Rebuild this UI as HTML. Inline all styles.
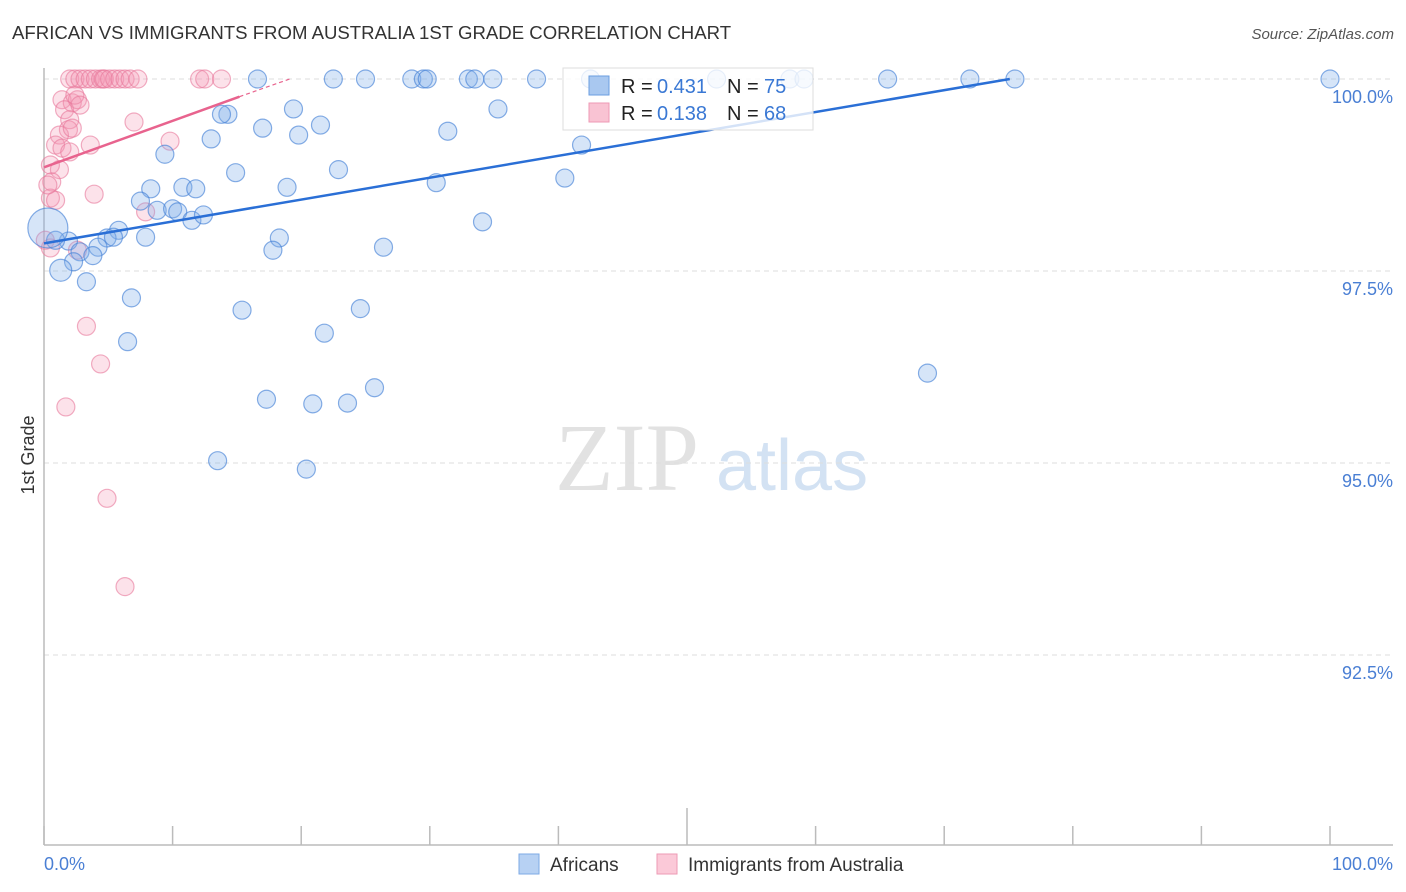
<!DOCTYPE html>
<html><head><meta charset="utf-8">
<style>
body{margin:0;background:#fff;font-family:"Liberation Sans",sans-serif;}
#wrap{position:relative;width:1406px;height:892px;overflow:hidden;}
</style></head>
<body>
<div id="wrap">
<svg id="chart" width="1406" height="892" style="position:absolute;left:0;top:0;font-family:'Liberation Sans',sans-serif"></svg>
</div>
<script>
const blueX=[16.6,22.5,25.0,28.6,29.5,29.8,33.0,33.5,34.9,38.3,42.5,52.3,58.0,59.1,65.6,72.0,75.5,100,
14.3,13.8,19.4,35.3,17.0,13.0,19.8,21.5,31.4,9.4,41.8,14.9,22.9,8.3,10.8,11.8,18.9,30.5,40.5,7.5,8.8,10.0,10.4,11.5,12.4,34.1,5.8,4.9,5.4,7.9,18.3,4.2,17.8,26.4,1.9,0.9,2.8,3.8,2.3,1.3,3.3,6.8,15.4,24.6,21.8,6.5,68.7,25.7,17.3,20.9,23.6,13.5,20.4,0.3];
const blueY=[100,100,100,100,100,100,100,100,100,100,100,100,100,100,100,100,100,100,
99.54,99.54,99.61,99.61,99.36,99.22,99.27,99.40,99.32,99.02,99.14,98.78,98.82,98.57,98.59,98.57,98.59,98.65,98.71,98.41,98.29,98.31,98.27,98.16,98.23,98.14,98.03,97.93,97.94,97.94,97.93,97.81,97.77,97.81,97.89,97.90,97.75,97.70,97.62,97.51,97.36,97.15,96.99,97.01,96.69,96.58,96.17,95.98,95.83,95.77,95.78,95.03,94.92,98.06];
const pinkX=[2.0,2.4,2.8,3.2,3.6,4.0,4.4,4.6,4.7,5.1,5.5,5.9,6.3,6.7,7.3,12.1,12.5,13.8,
1.4,2.2,2.6,1.6,2.4,2.0,1.9,1.2,2.2,0.9,1.4,2.0,0.5,1.2,0.6,0.5,0.9,3.6,7.0,9.8,3.9,7.9,0.1,0.5,2.6,3.3,4.4,1.7,4.9,6.3,2.8,0.3];
const pinkY=[100,100,100,100,100,100,100,100,100,100,100,100,100,100,100,100,100,100,
99.73,99.69,99.73,99.60,99.79,99.47,99.34,99.27,99.36,99.14,99.10,99.05,98.88,98.82,98.66,98.45,98.42,99.14,99.44,99.19,98.50,98.27,97.90,97.80,97.77,96.78,96.29,95.73,94.54,93.39,99.66,98.62];
const blueLine=[0,97.86,75.1,100];
const pinkLine=[0,98.85,15.2,99.77,19.1,100];
const yTicks=[100,97.5,95,92.5];
const yTickLabels=["100.0%","97.5%","95.0%","92.5%"];
const xTicks=[0,10,20,30,40,50,60,70,80,90,100];

const NS="http://www.w3.org/2000/svg";
const svg=document.getElementById('chart');
const X0=44,X1=1330,Y100=79,PXPER=76.8;
const sx=v=>X0+(X1-X0)*v/100;
const sy=v=>Y100+(100-v)*PXPER;
function mk(tag,attrs,parent,text){const e=document.createElementNS(NS,tag);for(const k in attrs)e.setAttribute(k,attrs[k]);if(text!==undefined)e.textContent=text;(parent||svg).appendChild(e);return e;}

let t=mk('text',{x:12,y:39,'font-size':18.6,fill:'#333'},svg,'AFRICAN VS IMMIGRANTS FROM AUSTRALIA 1ST GRADE CORRELATION CHART');


t=mk('text',{x:1394,y:39,'font-size':15,fill:'#555','font-style':'italic','text-anchor':'end'},svg,'Source: ZipAtlas.com');



t=mk('text',{x:555,y:490,'font-size':96,fill:'#e2e2e2','font-family':'Liberation Serif,serif'},svg,'ZIP');


t=mk('text',{x:716,y:490,'font-size':72,fill:'#d3e2f3'},svg,'atlas');



yTicks.forEach((v,i)=>{
 const g=mk('line',{x1:X0,x2:1393,y1:sy(v),y2:sy(v),stroke:'#ddd','stroke-dasharray':'5,4','stroke-width':1});
 
 
 const l=mk('text',{x:1393,y:sy(v)+24,'font-size':18,fill:'#4a7fd4','text-anchor':'end'},svg,yTickLabels[i]);
 
 
});
let a=mk('line',{x1:X0,x2:X0,y1:68,y2:845,stroke:'#bbb','stroke-width':1.5});


a=mk('line',{x1:X0,x2:1393,y1:845,y2:845,stroke:'#bbb','stroke-width':1.5});


xTicks.forEach(v=>{
 const k=mk('line',{x1:sx(v),x2:sx(v),y1:v===50?808:826,y2:845,stroke:'#bbb','stroke-width':1.5});
 
 
});
t=mk('text',{x:44,y:870,'font-size':18,fill:'#4a7fd4'},svg,'0.0%');


t=mk('text',{x:1393,y:870,'font-size':18,fill:'#4a7fd4','text-anchor':'end'},svg,'100.0%');


t=mk('text',{x:34,y:455,'font-size':18,fill:'#333','text-anchor':'middle',transform:'rotate(-90 34 455)'},svg,'1st Grade');



pinkX.forEach((v,i)=>{
 const c=mk('circle',{cx:sx(v),cy:sy(pinkY[i]),r:9,fill:'rgba(244,150,180,0.28)',stroke:'rgba(232,120,155,0.6)','stroke-width':1.2});
 
 
});
blueX.forEach((v,i)=>{
 const r=i===blueX.length-1?20:(i===57?11:9);
 const c=mk('circle',{cx:sx(v),cy:sy(blueY[i]),r:r,fill:'rgba(130,175,235,0.33)',stroke:'rgba(70,130,215,0.65)','stroke-width':1.2});
 
 
});
let ln=mk('line',{x1:sx(blueLine[0]),y1:sy(blueLine[1]),x2:sx(blueLine[2]),y2:sy(blueLine[3]),stroke:'#2a6fd6','stroke-width':2.5});


ln=mk('line',{x1:sx(pinkLine[0]),y1:sy(pinkLine[1]),x2:sx(pinkLine[2]),y2:sy(pinkLine[3]),stroke:'#e8638e','stroke-width':2.5});


ln=mk('line',{x1:sx(pinkLine[2]),y1:sy(pinkLine[3]),x2:sx(pinkLine[4]),y2:sy(pinkLine[5]),stroke:'#e8638e','stroke-width':1.2,'stroke-dasharray':'4,3'});



const lg=mk('g',{});


mk('rect',{x:563,y:68,width:250,height:62,fill:'rgba(255,255,255,0.8)',stroke:'#ddd'},lg);
mk('rect',{x:589,y:76,width:20,height:19,fill:'#a9c8f0',stroke:'#6a9ee0'},lg);
mk('rect',{x:589,y:103,width:20,height:19,fill:'#f9c3d3',stroke:'#ee9ab4'},lg);
[['R = ','0.431','N = ','75',93],['R = ','0.138','N = ','68',120]].forEach(r=>{
 mk('text',{x:621,y:r[4],'font-size':20,fill:'#222'},lg,r[0]);
 mk('text',{x:657,y:r[4],'font-size':20,fill:'#3a78d4'},lg,r[1]);
 mk('text',{x:727,y:r[4],'font-size':20,fill:'#222'},lg,r[2]);
 mk('text',{x:764,y:r[4],'font-size':20,fill:'#3a78d4'},lg,r[3]);
});

const bl=mk('g',{});


mk('rect',{x:519,y:854,width:20,height:20,fill:'#b7d1f3',stroke:'#7eaae6'},bl);
mk('text',{x:550,y:871,'font-size':19,fill:'#333'},bl,'Africans');
mk('rect',{x:657,y:854,width:20,height:20,fill:'#fbc9d8',stroke:'#ee9ab4'},bl);
mk('text',{x:688,y:871,'font-size':19,fill:'#333'},bl,'Immigrants from Australia');
</script>
</body></html>
